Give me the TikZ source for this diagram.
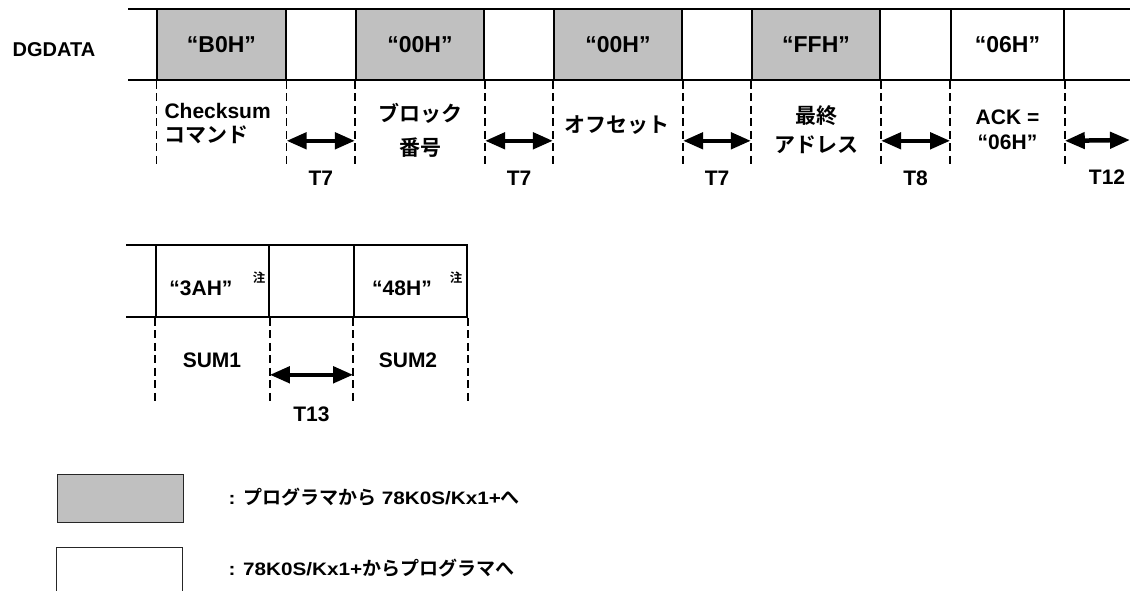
\documentclass[tikz,border=0pt]{standalone}
\usepackage{fontspec}
\setmainfont{Liberation Sans Bold}
\newfontfamily\widefont{Liberation Sans Bold}[FakeStretch=1.15]
\newfontfamily\jpfont{Noto Sans CJK JP Bold}
\newcommand{\ja}[1]{{\jpfont #1}}
\usepackage{xcolor}
\definecolor{hostgray}{RGB}{192,192,192}
\usepackage{tikz}
\usetikzlibrary{arrows.meta, positioning}

\begin{document}
\begin{tikzpicture}[x=1pt, y=-1pt,
  every node/.style={font=\fontsize{21}{28}\selectfont},
  frame/.style={draw, line width=1.6pt, minimum height=71pt, inner sep=0pt,
                font=\fontsize{23}{28}\selectfont},
  hostbox/.style={frame, fill=hostgray, minimum width=128.5pt},
  replybox/.style={frame, fill=white, minimum width=113pt},
  sumval/.style={font=\fontsize{21}{28}\selectfont},
  guide/.style={dash pattern=on 8pt off 4.5pt, line width=1.6pt},
  wire/.style={line width=1.4pt},
  gaparrow/.style={{Triangle[length=20pt,width=16pt]}-{Triangle[length=20pt,width=16pt]}, line width=4.5pt},
  notemark/.style={font=\jpfont\fontsize{12.5}{14}\selectfont},
  keybox/.style={draw=black!85, line width=1pt, minimum width=126pt, minimum height=48pt, inner sep=0pt},
  keytext/.style={font=\widefont\fontsize{18}{24}\selectfont, anchor=west}]

\clip (0,0) rectangle (1130,591);
\useasboundingbox (0,0) rectangle (1130,591);

% === DGDATA row ===
\node[font=\fontsize{20}{24}\selectfont] (dg) at (54,50) {DGDATA};
\draw[wire] (128,9) -- (1130,9);
\draw[wire] (128,80) -- (1130,80);

\node[hostbox] (cmd) at (221.5,44.5) {“B0H”};
\node[hostbox] (blk) at (420,44.5) {“00H”};
\node[hostbox] (ofs) at (618,44.5) {“00H”};
\node[hostbox] (adr) at (816,44.5) {“FFH”};
\node[replybox] (ack) at (1007.5,44.5) {“06H”};

\foreach \b in {cmd,blk,ofs,adr,ack}
  \draw[guide] (\b.south west) -- ++(0,85) (\b.south east) -- ++(0,85);

\node[align=left, anchor=west] (lcmd) at (161,124) {Checksum\\[-4pt]\ja{コマンド}};
\node[align=center] (lblk) at (420,130) {\ja{ブロック}\\[6pt]\ja{番号}};
\node (lofs) at (617,125) {\ja{オフセット}};
\node[align=center] (ladr) at (816,130) {\ja{最終}\\[1pt]\ja{アドレス}};
\node[align=center] (lack) at (1007.5,130) {ACK =\\[-3pt]“06H”};

% === gaps ===
\foreach \a/\b/\t in {cmd/blk/T7, blk/ofs/T7, ofs/adr/T7, adr/ack/T8}
  \draw[gaparrow] ([yshift=-60pt]\a.south east) -- ([yshift=-60pt]\b.south west)
    node[midway, yshift=-37pt] (gap\a) {\t};

\coordinate (rim) at (1130,140);
\draw[gaparrow] ([yshift=-60pt]ack.south east) -- (rim);
\node (gapack) at (1107,177) {T12};

% === SUM row ===
\draw[wire] (126,245) -- (467,245);
\draw[wire] (126,317) -- (467,317);

\node[replybox, minimum height=72pt] (sum1) at (212.5,281) {};
\node[replybox, minimum height=72pt] (sum2) at (410.5,281) {};
\node[sumval] (v1) at (201,288) {“3AH”};
\node[sumval] (v2) at (402,288) {“48H”};
\node[notemark] (n1) at (259,278) {注};
\node[notemark] (n2) at (456,278) {注};

\foreach \b in {sum1,sum2}
  \draw[guide] (\b.south west) -- ++(0,85) (\b.south east) -- ++(0,85);

\node (lsum1) at (212,360) {SUM1};
\node (lsum2) at (408,360) {SUM2};

\draw[gaparrow] ([yshift=-57pt]sum1.south east) -- ([yshift=-57pt]sum2.south west)
  node[midway, yshift=-39pt] (gapsum) {T13};

% === legend ===
\node[keybox, fill=hostgray] (keyhost) at (120,498) {};
\node[keytext] (keyhostlbl) at (225,497) {: {\jpfont\fontsize{19}{24}\selectfont プログラマから} 78K0S/Kx1+{\jpfont\fontsize{19}{24}\selectfont へ}};
\node[keybox, fill=white, minimum height=60pt] (keyreply) at (119.5,577) {};
\node[keytext] (keyreplylbl) at (225,568) {: 78K0S/Kx1+{\jpfont\fontsize{19}{24}\selectfont からプログラマへ}};

\end{tikzpicture}
\end{document}
